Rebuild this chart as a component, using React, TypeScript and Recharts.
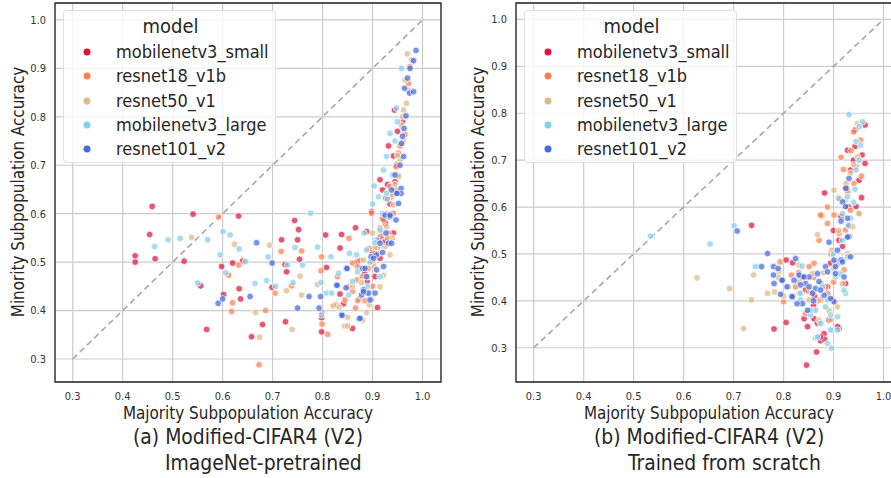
import React from 'react';
import { ScatterChart, Scatter, XAxis, YAxis, CartesianGrid, ReferenceLine, ReferenceArea } from 'recharts';

const MODELS = ['mobilenetv3_small', 'resnet18_v1b', 'resnet50_v1', 'mobilenetv3_large', 'resnet101_v2'];
const COLORS = ['#dc143c', '#ff7f50', '#deb887', '#87ceeb', '#4169e1'];
const TICKS = [0.3, 0.4, 0.5, 0.6, 0.7, 0.8, 0.9, 1.0];

// (a) ImageNet-pretrained: [majority acc, minority acc]
const smallA = [
  [0.459, 0.615], [0.454, 0.557], [0.425, 0.513], [0.425, 0.5], [0.465, 0.507], [0.523, 0.502], [0.541, 0.599],
  [0.556, 0.451], [0.568, 0.361], [0.632, 0.595], [0.598, 0.491], [0.62, 0.498], [0.64, 0.502], [0.633, 0.445],
  [0.636, 0.424], [0.602, 0.433], [0.658, 0.346], [0.68, 0.371], [0.718, 0.546], [0.744, 0.586], [0.752, 0.567],
  [0.75, 0.546], [0.754, 0.506], [0.728, 0.48], [0.725, 0.495], [0.699, 0.448], [0.726, 0.377], [0.806, 0.556],
  [0.808, 0.489], [0.798, 0.385], [0.798, 0.356], [0.835, 0.529], [0.838, 0.557], [0.866, 0.571], [0.835, 0.434],
  [0.842, 0.414], [0.86, 0.363], [0.91, 0.406], [0.888, 0.563], [0.898, 0.604], [0.916, 0.553], [0.92, 0.649],
  [0.927, 0.632], [0.932, 0.74], [0.944, 0.814], [0.942, 0.719], [0.932, 0.595], [0.925, 0.542], [0.915, 0.508],
  [0.884, 0.477], [0.872, 0.422], [0.942, 0.56], [0.915, 0.67], [0.945, 0.666],
  [0.9, 0.52], [0.912, 0.545], [0.926, 0.58], [0.935, 0.62], [0.948, 0.7], [0.93, 0.66], [0.905, 0.47],
  [0.87, 0.5], [0.889, 0.46], [0.95, 0.77], [0.96, 0.79], [0.92, 0.59],
];
const r18A = [
  [0.592, 0.593], [0.632, 0.494], [0.612, 0.473], [0.62, 0.416], [0.618, 0.398], [0.686, 0.4], [0.673, 0.288],
  [0.717, 0.522], [0.705, 0.436], [0.738, 0.451], [0.758, 0.523], [0.798, 0.511], [0.797, 0.482], [0.799, 0.396],
  [0.799, 0.372], [0.81, 0.351], [0.853, 0.549], [0.852, 0.449], [0.86, 0.498], [0.866, 0.405], [0.822, 0.41],
  [0.875, 0.504], [0.893, 0.528], [0.892, 0.487], [0.905, 0.518], [0.915, 0.57], [0.898, 0.601], [0.922, 0.587],
  [0.932, 0.56], [0.938, 0.635], [0.935, 0.656], [0.947, 0.697], [0.952, 0.725], [0.958, 0.745], [0.965, 0.763],
  [0.972, 0.869], [0.975, 0.904], [0.868, 0.463], [0.845, 0.422], [0.942, 0.601],
  [0.87, 0.49], [0.88, 0.47], [0.9, 0.5], [0.91, 0.53], [0.925, 0.6], [0.93, 0.55], [0.945, 0.65],
  [0.95, 0.68], [0.86, 0.44], [0.885, 0.42], [0.955, 0.74], [0.9, 0.45], [0.83, 0.47],
];
const r50A = [
  [0.538, 0.551], [0.624, 0.537], [0.694, 0.535], [0.666, 0.396], [0.674, 0.345], [0.739, 0.361], [0.728, 0.441],
  [0.755, 0.471], [0.758, 0.432], [0.79, 0.454], [0.827, 0.412], [0.833, 0.407], [0.844, 0.368], [0.85, 0.368],
  [0.85, 0.386], [0.888, 0.396], [0.894, 0.412], [0.878, 0.458], [0.888, 0.436], [0.903, 0.491], [0.922, 0.473],
  [0.925, 0.532], [0.935, 0.515], [0.928, 0.573], [0.942, 0.618], [0.952, 0.677], [0.955, 0.711], [0.962, 0.752],
  [0.958, 0.783], [0.962, 0.814], [0.968, 0.828], [0.972, 0.855], [0.97, 0.93], [0.978, 0.917], [0.965, 0.876],
  [0.912, 0.518], [0.882, 0.504], [0.915, 0.449],
  [0.87, 0.42], [0.89, 0.47], [0.905, 0.53], [0.918, 0.56], [0.93, 0.6], [0.94, 0.64], [0.945, 0.66],
  [0.95, 0.72], [0.96, 0.8], [0.88, 0.38], [0.86, 0.45], [0.9, 0.56], [0.94, 0.55],
];
const largeA = [
  [0.464, 0.532], [0.491, 0.546], [0.515, 0.549], [0.55, 0.457], [0.57, 0.546], [0.595, 0.515], [0.601, 0.563],
  [0.615, 0.556], [0.633, 0.527], [0.606, 0.478], [0.646, 0.501], [0.665, 0.456], [0.688, 0.462], [0.691, 0.511],
  [0.706, 0.45], [0.73, 0.494], [0.745, 0.53], [0.741, 0.458], [0.76, 0.494], [0.776, 0.601], [0.79, 0.531],
  [0.797, 0.458], [0.817, 0.511], [0.808, 0.436], [0.818, 0.436], [0.798, 0.391], [0.832, 0.477], [0.854, 0.518],
  [0.868, 0.515], [0.852, 0.432], [0.883, 0.56], [0.903, 0.657], [0.912, 0.635], [0.922, 0.69], [0.928, 0.718],
  [0.935, 0.766], [0.948, 0.818], [0.958, 0.9], [0.888, 0.525], [0.915, 0.566], [0.928, 0.642], [0.898, 0.422],
  [0.908, 0.546],
  [0.87, 0.48], [0.895, 0.5], [0.905, 0.54], [0.92, 0.6], [0.93, 0.63], [0.94, 0.68], [0.945, 0.75],
  [0.86, 0.46], [0.915, 0.47], [0.95, 0.79], [0.89, 0.45], [0.9, 0.62],
];
const r101A = [
  [0.668, 0.54], [0.699, 0.498], [0.591, 0.415], [0.6, 0.424], [0.655, 0.429], [0.75, 0.405], [0.773, 0.429],
  [0.796, 0.429], [0.793, 0.405], [0.828, 0.453], [0.847, 0.447], [0.838, 0.392], [0.848, 0.487], [0.873, 0.383],
  [0.878, 0.432], [0.882, 0.443], [0.88, 0.487], [0.892, 0.436], [0.905, 0.436], [0.897, 0.511], [0.908, 0.515],
  [0.915, 0.539], [0.922, 0.491], [0.932, 0.539], [0.938, 0.539], [0.925, 0.597], [0.935, 0.594], [0.947, 0.587],
  [0.957, 0.652], [0.957, 0.642], [0.947, 0.642], [0.952, 0.621], [0.938, 0.649], [0.962, 0.718], [0.958, 0.745],
  [0.963, 0.776], [0.967, 0.802], [0.964, 0.859], [0.974, 0.849], [0.982, 0.852], [0.982, 0.916], [0.975, 0.9],
  [0.987, 0.937], [0.908, 0.484], [0.888, 0.47], [0.895, 0.422],
  [0.949, 0.642], [0.935, 0.597], [0.902, 0.508], [0.885, 0.487], [0.849, 0.487], [0.829, 0.452], [0.882, 0.439],
  [0.839, 0.39], [0.875, 0.384], [0.92, 0.52], [0.945, 0.68], [0.955, 0.7], [0.96, 0.76], [0.97, 0.88], [0.927, 0.56],
];

// (b) Trained from scratch
const smallB = [
  [0.736, 0.561], [0.805, 0.487], [0.818, 0.481], [0.781, 0.34], [0.805, 0.354], [0.846, 0.263], [0.866, 0.291],
  [0.882, 0.63], [0.881, 0.33], [0.874, 0.315], [0.882, 0.318], [0.911, 0.341], [0.861, 0.362], [0.924, 0.64],
  [0.928, 0.721], [0.943, 0.729], [0.943, 0.764], [0.963, 0.775], [0.957, 0.711], [0.963, 0.693], [0.956, 0.62],
  [0.945, 0.601], [0.931, 0.561], [0.911, 0.529], [0.844, 0.423], [0.862, 0.409], [0.898, 0.402], [0.924, 0.437],
  [0.918, 0.516], [0.951, 0.657], [0.934, 0.679], [0.891, 0.359], [0.837, 0.451],
  [0.874, 0.323], [0.848, 0.345], [0.908, 0.345], [0.868, 0.352], [0.841, 0.362], [0.888, 0.43], [0.894, 0.48],
  [0.915, 0.58], [0.93, 0.6], [0.9, 0.55], [0.86, 0.39], [0.94, 0.7],
];
const r18B = [
  [0.793, 0.483], [0.816, 0.455], [0.8, 0.398], [0.861, 0.48], [0.876, 0.581], [0.888, 0.6], [0.901, 0.583],
  [0.915, 0.706], [0.928, 0.633], [0.924, 0.551], [0.911, 0.544], [0.956, 0.666], [0.941, 0.65], [0.934, 0.593],
  [0.951, 0.586], [0.954, 0.743], [0.871, 0.529], [0.851, 0.473], [0.888, 0.416], [0.844, 0.373], [0.904, 0.48],
  [0.921, 0.466], [0.884, 0.43], [0.824, 0.43], [0.945, 0.686],
  [0.874, 0.583], [0.888, 0.565], [0.874, 0.402], [0.85, 0.42], [0.895, 0.5], [0.91, 0.62], [0.92, 0.68],
  [0.935, 0.72], [0.83, 0.46], [0.9, 0.44], [0.94, 0.76], [0.86, 0.45],
];
const r50B = [
  [0.627, 0.449], [0.692, 0.426], [0.736, 0.402], [0.72, 0.341], [0.74, 0.455], [0.768, 0.416], [0.782, 0.419],
  [0.791, 0.462], [0.831, 0.476], [0.868, 0.541], [0.831, 0.416], [0.871, 0.359], [0.891, 0.38], [0.908, 0.387],
  [0.918, 0.437], [0.928, 0.501], [0.938, 0.558], [0.951, 0.586], [0.934, 0.672], [0.948, 0.778], [0.948, 0.707],
  [0.896, 0.508], [0.876, 0.437], [0.851, 0.402], [0.901, 0.636], [0.924, 0.615], [0.858, 0.458], [0.876, 0.352],
  [0.79, 0.45], [0.81, 0.43], [0.83, 0.44], [0.855, 0.42], [0.87, 0.4], [0.88, 0.46], [0.9, 0.47],
  [0.91, 0.55], [0.925, 0.65], [0.94, 0.69], [0.895, 0.36], [0.86, 0.38], [0.8, 0.41],
];
const largeB = [
  [0.534, 0.538], [0.653, 0.521], [0.701, 0.56], [0.744, 0.473], [0.837, 0.474], [0.931, 0.797], [0.958, 0.782],
  [0.951, 0.771], [0.954, 0.732], [0.951, 0.7], [0.945, 0.679], [0.943, 0.638], [0.911, 0.618], [0.928, 0.622],
  [0.918, 0.586], [0.934, 0.576], [0.911, 0.48], [0.928, 0.494], [0.904, 0.451], [0.924, 0.416], [0.864, 0.38],
  [0.884, 0.387], [0.894, 0.37], [0.898, 0.338], [0.896, 0.299], [0.864, 0.321], [0.878, 0.43], [0.834, 0.416],
  [0.854, 0.37], [0.908, 0.338], [0.918, 0.529], [0.888, 0.402],
  [0.868, 0.323], [0.874, 0.352], [0.854, 0.38], [0.894, 0.338], [0.908, 0.366], [0.888, 0.309], [0.834, 0.402],
  [0.921, 0.423], [0.914, 0.458], [0.93, 0.56], [0.94, 0.61], [0.945, 0.74], [0.9, 0.5],
];
const r101B = [
  [0.707, 0.549], [0.768, 0.501], [0.756, 0.473], [0.78, 0.473], [0.789, 0.469], [0.781, 0.437], [0.794, 0.414],
  [0.824, 0.49], [0.821, 0.444], [0.818, 0.409], [0.831, 0.455], [0.844, 0.437], [0.851, 0.451], [0.848, 0.38],
  [0.838, 0.394], [0.864, 0.426], [0.868, 0.458], [0.884, 0.473], [0.891, 0.525], [0.901, 0.487], [0.908, 0.508],
  [0.915, 0.487], [0.918, 0.611], [0.928, 0.576], [0.931, 0.537], [0.934, 0.494], [0.921, 0.451], [0.901, 0.398],
  [0.881, 0.412], [0.858, 0.416], [0.834, 0.434], [0.798, 0.444], [0.931, 0.661], [0.924, 0.601], [0.871, 0.441],
  [0.904, 0.458],
  [0.797, 0.444], [0.817, 0.409], [0.841, 0.451], [0.851, 0.43], [0.874, 0.423], [0.894, 0.405], [0.904, 0.473],
  [0.918, 0.483], [0.928, 0.536], [0.888, 0.462], [0.827, 0.394], [0.78, 0.455], [0.807, 0.43], [0.915, 0.57],
  [0.925, 0.64], [0.86, 0.4],
];

const FONT = "'DejaVu Sans Condensed', 'DejaVu Sans', sans-serif";
const X_DOMAIN: [number, number] = [0.2646, 1.037];

const toPoints = (rows: number[][]) => rows.map(([x, y]) => ({ x, y }));

const ModelLegend: React.FC<{ left: number }> = ({ left }) => (
  <div style={{
    position: 'absolute', left, top: 10, width: 213, height: 153, boxSizing: 'border-box',
    border: '1px solid #e0e0e0', borderRadius: 4, background: 'rgba(255,255,255,0.8)', fontFamily: FONT, color: '#262626',
  }}>
    <div style={{ position: 'absolute', left: 0, width: 213, top: 3, textAlign: 'center', fontSize: 20, lineHeight: '24px' }}>model</div>
    {MODELS.map((m, i) => (
      <div key={m} style={{ position: 'absolute', left: 0, top: 29 + i * 24.3, height: 24, width: 213 }}>
        <svg width={16} height={16} style={{ position: 'absolute', left: 15, top: 4 }}>
          <circle cx={8} cy={8} r={4} fill={COLORS[i]} stroke="#fff" strokeWidth={0.8} />
        </svg>
        <span style={{ position: 'absolute', left: 52, top: 0, fontSize: 18, lineHeight: '24px', whiteSpace: 'nowrap' }}>{m}</span>
      </div>
    ))}
  </div>
);

const dot = (color: string) => (p: any) => (
  <circle cx={p.cx} cy={p.cy} r={3.3} fill={color} fillOpacity={0.72} stroke="#ffffff" strokeWidth={0.8} strokeOpacity={0.9} />
);

const Panel: React.FC<{ series: number[][][]; yDomain: [number, number]; left: number }> = ({ series, yDomain, left }) => (
  <div style={{ position: 'absolute', left, top: 0 }}>
    <ScatterChart width={450} height={420} margin={{ top: 3, right: 9, left: 0, bottom: 0 }}>
      <CartesianGrid stroke="#cccccc" strokeWidth={1.2} />
      <XAxis type="number" dataKey="x" domain={X_DOMAIN} ticks={TICKS} allowDataOverflow axisLine={false} tickLine={false}
        height={38} tickMargin={4} tickFormatter={(v: number) => v.toFixed(1)}
        tick={{ fill: '#333', fontSize: 11, fontFamily: FONT }} />
      <YAxis type="number" dataKey="y" domain={yDomain} ticks={TICKS} allowDataOverflow axisLine={false} tickLine={false}
        width={55} tickMargin={3} tickFormatter={(v: number) => v.toFixed(1)}
        tick={{ fill: '#333', fontSize: 11, fontFamily: FONT }} />
      <ReferenceLine segment={[{ x: 0.3, y: 0.3 }, { x: 1.0, y: 1.0 }]} stroke="#a8a8a8" strokeWidth={1.6} strokeDasharray="6 4" ifOverflow="visible" />
      {series.map((rows, i) => (
        <Scatter key={MODELS[i]} name={MODELS[i]} data={toPoints(rows)} fill={COLORS[i]}
          shape={dot(COLORS[i])} isAnimationActive={false} />
      ))}
      <ReferenceArea x1={X_DOMAIN[0]} x2={X_DOMAIN[1]} y1={yDomain[0]} y2={yDomain[1]} fill="none" stroke="#262626" strokeWidth={1.3} ifOverflow="visible" />
    </ScatterChart>
  </div>
);

const labelStyle: React.CSSProperties = { position: 'absolute', fontFamily: FONT, color: '#262626', whiteSpace: 'nowrap' };

export default function App() {
  return (
    <div style={{ position: 'absolute', left: 0, top: 0, width: 891, height: 478, overflow: 'hidden', background: '#fff' }}>
      <Panel series={[smallA, r18A, r50A, largeA, r101A]} yDomain={[0.2525, 1.035]} left={0} />
      <Panel series={[smallB, r18B, r50B, largeB, r101B]} yDomain={[0.227, 1.035]} left={461} />
      <ModelLegend left={63} />
      <ModelLegend left={524} />

      <div style={{ ...labelStyle, left: 48, width: 400, top: 405, textAlign: 'center', fontSize: 16.9, lineHeight: '17px' }}>Majority Subpopulation Accuracy</div>
      <div style={{ ...labelStyle, left: 509, width: 400, top: 405, textAlign: 'center', fontSize: 16.9, lineHeight: '17px' }}>Majority Subpopulation Accuracy</div>
      <div style={{ ...labelStyle, left: 18 - 150, width: 300, top: 192 - 10, textAlign: 'center', fontSize: 16.9, lineHeight: '20px', transform: 'rotate(-90deg)' }}>Minority Subpopulation Accuracy</div>
      <div style={{ ...labelStyle, left: 478 - 150, width: 300, top: 192 - 10, textAlign: 'center', fontSize: 16.9, lineHeight: '20px', transform: 'rotate(-90deg)' }}>Minority Subpopulation Accuracy</div>

      <div style={{ ...labelStyle, left: 133, top: 425, fontSize: 20.9, lineHeight: '24px' }}>(a) Modified-CIFAR4 (V2)</div>
      <div style={{ ...labelStyle, left: 165, top: 451, fontSize: 20.9, lineHeight: '24px' }}>ImageNet-pretrained</div>
      <div style={{ ...labelStyle, left: 594, top: 425, fontSize: 20.9, lineHeight: '24px' }}>(b) Modified-CIFAR4 (V2)</div>
      <div style={{ ...labelStyle, left: 628, top: 451, fontSize: 20.9, lineHeight: '24px' }}>Trained from scratch</div>
    </div>
  );
}
